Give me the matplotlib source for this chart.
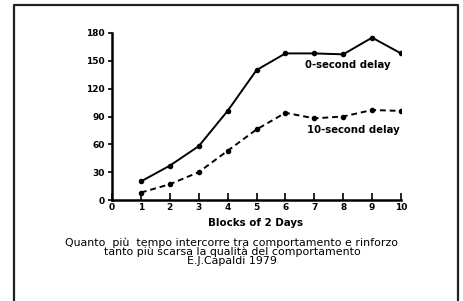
import numpy as np
import matplotlib.pyplot as plt
from matplotlib.lines import Line2D

blocks = [1, 2, 3, 4, 5, 6, 7, 8, 9, 10]
delay_0 = [20, 37, 58, 96, 140, 158, 158, 157, 175, 158]
delay_10 = [8, 17, 30, 53, 76, 94, 88, 90, 97, 96]
xticks = list(range(0, 11))
yticks = [0, 30, 60, 90, 120, 150, 180]
caption = ["Quanto  più  tempo intercorre tra comportamento e rinforzo",
           "tanto più scarsa la qualità del comportamento",
           "E.J.Capaldi 1979"]

W, H = 463, 301
fig = plt.figure(figsize=(W / 100, H / 100), dpi=100)

# outer frame (no bottom edge visible)
fx0, fx1, fy = 14 / W, 458 / W, 1 - 5 / H
fig.add_artist(Line2D([fx0, fx0, fx1, fx1], [0, fy, fy, 0], color='#222222', lw=1.6))

ax = fig.add_axes([112 / W, 1 - 200 / H, (401 - 112) / W, (200 - 33) / H])
ax.plot(blocks, delay_0, '-', color='black', lw=1.4, marker='o', ms=3)
ax.plot(blocks, delay_10, '--', color='black', lw=1.4, marker='o', ms=3, dashes=(3, 2))

ax.set_xlim(0, 10)
ax.set_ylim(0, 180)
ax.set_xticks(xticks)
ax.set_yticks(yticks)
for s in ['top', 'right']:
    ax.spines[s].set_visible(False)
for s in ['left', 'bottom']:
    ax.spines[s].set_linewidth(1.8)
ax.tick_params(axis='x', direction='in', length=5, width=1.2, labelsize=6.5, pad=2)
ax.tick_params(axis='y', direction='out', length=3, width=1.2, labelsize=6.5, pad=2)
for lab in ax.get_xticklabels() + ax.get_yticklabels():
    lab.set_fontweight('bold')

ax.text(8.17, 146, '0-second delay', fontsize=7.3, fontweight='bold', ha='center', va='center')
ax.text(8.35, 75, '10-second delay', fontsize=7.3, fontweight='bold', ha='center', va='center')
ax.set_xlabel('Blocks of 2 Days', fontsize=7.4, fontweight='bold')
ax.xaxis.set_label_coords(0.495, -0.105)

fig.text(232 / W, 1 - 252 / H, '\n'.join(caption), fontsize=7.9, ha='center', va='center',
         linespacing=0.82)

fig.savefig('out.png', dpi=100)
